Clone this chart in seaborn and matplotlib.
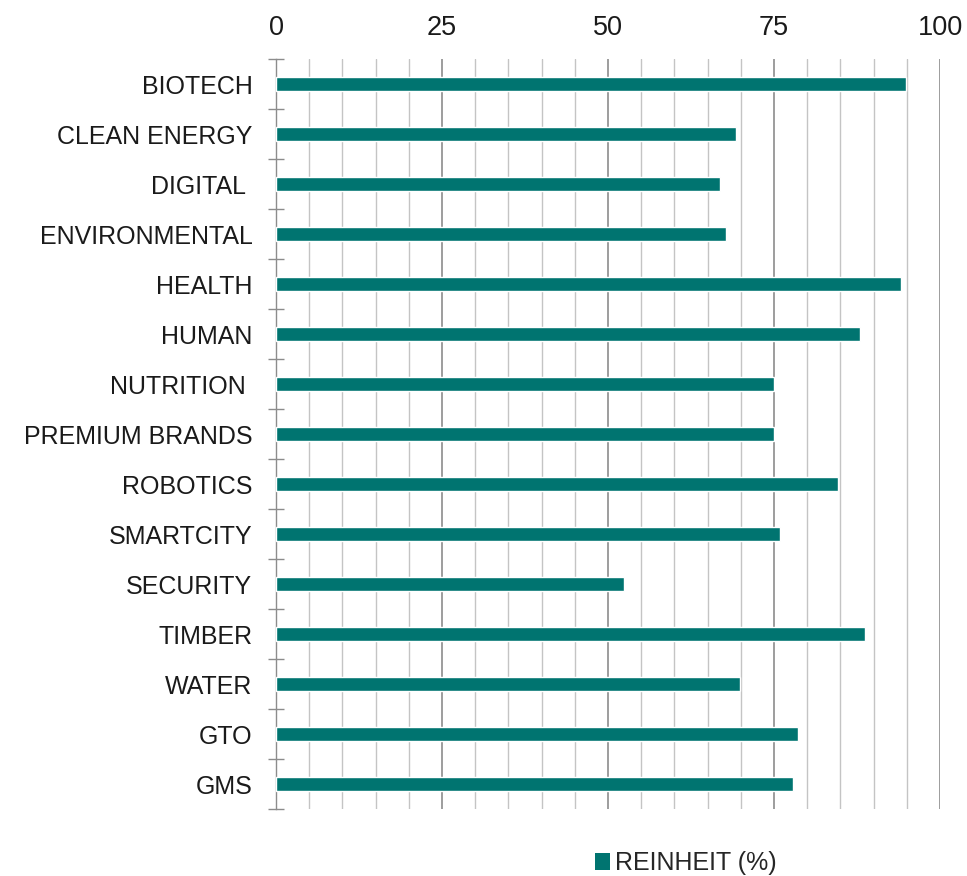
import matplotlib
matplotlib.use("Agg")
import matplotlib.pyplot as plt
import seaborn as sns
import pandas as pd
from matplotlib.patches import Patch
from matplotlib.ticker import MultipleLocator

categories = ["BIOTECH", "CLEAN ENERGY", "DIGITAL ", "ENVIRONMENTAL", "HEALTH", "HUMAN",
              "NUTRITION ", "PREMIUM BRANDS", "ROBOTICS", "SMARTCITY", "SECURITY", "TIMBER",
              "WATER", "GTO", "GMS"]
values = [94.9, 69.3, 66.9, 67.8, 94.1, 88.0, 75.0, 75.0, 84.6, 75.9, 52.4, 88.7, 69.9, 78.6, 77.9]
x_ticks = [0, 25, 50, 75, 100]
series_name = "REINHEIT (%)"
bar_color = "#007470"

sns.set_theme(style="white")
plt.rcParams['font.family'] = ['Liberation Sans', 'DejaVu Sans']

df = pd.DataFrame({"cat": categories, "val": values})

fig = plt.figure(figsize=(9.67, 8.76), dpi=100)
ax = fig.add_axes([276/967, 1 - 809/876, (940-276)/967, 750/876])

sns.barplot(data=df, x="val", y="cat", orient="h", color=bar_color, saturation=1,
            width=0.28, ax=ax, zorder=3)

ax.set_xlim(0, 100)
ax.set_ylim(len(categories) - 0.5, -0.5)
ax.set_xlabel("")
ax.set_ylabel("")

ax.xaxis.tick_top()
ax.set_xticks(x_ticks)
ax.set_xticklabels([str(t) for t in x_ticks], fontsize=19.5, color="#1a1a1a")
ax.xaxis.set_minor_locator(MultipleLocator(5))
ax.tick_params(axis="x", which="both", length=0, pad=13)
ax.grid(False)
ax.grid(axis="x", which="major", color="#8c8c8c", linewidth=1.2, zorder=0)
ax.grid(axis="x", which="minor", color="#c4c4c4", linewidth=1.0, zorder=0)
ax.set_axisbelow(True)

ax.set_yticks(range(len(categories)), minor=False)
ax.set_yticks([i - 0.5 for i in range(len(categories) + 1)], minor=True)
ax.tick_params(axis="y", which="major", left=True, length=0, pad=17, labelsize=18, labelcolor="#1a1a1a")
ax.tick_params(axis="y", which="minor", left=True, direction="inout", length=12, width=1, color="#8c8c8c")

for s in ["top", "right", "bottom"]:
    ax.spines[s].set_visible(False)
ax.spines["left"].set_color("#8c8c8c")
ax.spines["left"].set_linewidth(1.0)

handles = [Patch(facecolor=bar_color, edgecolor="none", label=series_name)]
fig.legend(handles=handles, loc="center", bbox_to_anchor=(686/967, 1 - 863/876),
           frameon=False, fontsize=18, handlelength=0.6, handleheight=0.7,
           handletextpad=0.2)

fig.savefig("out.png", dpi=100)
